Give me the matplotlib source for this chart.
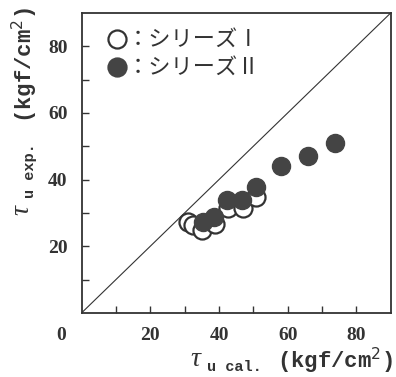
import matplotlib.pyplot as plt

# series I (open circles)
cal_1 = [31.0, 32.4, 34.9, 38.8, 42.6, 47.0, 50.9]
exp_1 = [27.4, 26.4, 24.9, 26.6, 31.4, 31.4, 34.9]
# series II (filled circles)
cal_2 = [35.3, 38.5, 42.4, 46.8, 50.9, 58.1, 65.9, 73.7]
exp_2 = [27.4, 28.9, 33.9, 33.9, 37.9, 44.1, 47.1, 51.1]

ticks = [20, 40, 60, 80]
labels = ['：シリーズⅠ', '：シリーズⅡ']

W, H = 396, 377
ink = '#333333'
fig = plt.figure(figsize=(W / 100, H / 100), dpi=100)
ax = fig.add_axes([0.206, 0.170, 0.781, 0.796])


def px(x, y):
    # pixel position -> figure fraction
    return x / W, 1 - y / H


ax.plot([0, 90], [0, 90], color=ink, lw=0.8)
ax.plot(cal_1, exp_1, 'o', ms=13, mfc='white', mec=ink, mew=1.6, ls='none')
ax.plot(cal_2, exp_2, 'o', ms=13, mfc='#444444', mec='#444444', ls='none')

ax.set_xlim(0, 90)
ax.set_ylim(0, 90)
ax.set_xticks(range(10, 90, 10))
ax.set_yticks(range(10, 90, 10))
ax.set_xticklabels([str(v) if v in ticks else '' for v in range(10, 90, 10)])
ax.set_yticklabels([str(v) if v in ticks else '' for v in range(10, 90, 10)])
ax.tick_params(direction='in', length=5, width=1, labelsize=14, pad=10, colors=ink)
for lab in ax.get_xticklabels() + ax.get_yticklabels():
    lab.set_fontfamily('Liberation Serif')
    lab.set_fontweight('bold')
for s in ax.spines.values():
    s.set_linewidth(1.3)
    s.set_color(ink)

# shared origin label
fig.text(*px(61, 335), '0', fontsize=14, fontweight='bold', family='Liberation Serif',
         color=ink, ha='center', va='center')

# legend drawn by hand
for i, (lab, fc) in enumerate(zip(labels, ['white', '#444444'])):
    yy = 39 + 28 * i
    ax.plot([(117.5 - 81.7) / 309.6], [(313 - yy) / 300], 'o', ms=13, mfc=fc,
            mec=ink if fc == 'white' else fc, mew=1.6, transform=ax.transAxes, clip_on=False)
    fig.text(*px(127, yy), lab, fontsize=16, color=ink, ha='left', va='center',
             family=['Noto Sans CJK JP', 'DejaVu Sans'])

# x axis label
fig.text(*px(195, 359), 'τ', fontsize=20, style='italic', family='Liberation Serif',
         color=ink, ha='center', va='center')
fig.text(*px(207, 367), 'u cal.', fontsize=11, family='Liberation Mono', fontweight='bold',
         color=ink, ha='left', va='center')
fig.text(*px(393, 361), '(kgf/cm$^{2}$)', fontsize=16, family='Liberation Mono',
         fontweight='bold', color=ink, ha='right', va='center')

# y axis label
fig.text(*px(22, 210), 'τ', fontsize=20, style='italic', family='Liberation Serif',
         color=ink, ha='center', va='center', rotation=90)
fig.text(*px(30, 198), 'u exp.', fontsize=11, family='Liberation Mono', fontweight='bold',
         color=ink, ha='center', va='bottom', rotation=90)
fig.text(*px(25, 7), '(kgf/cm$^{2}$)', fontsize=16, family='Liberation Mono',
         fontweight='bold', color=ink, ha='center', va='top', rotation=90)

fig.savefig('out.png', dpi=100)
